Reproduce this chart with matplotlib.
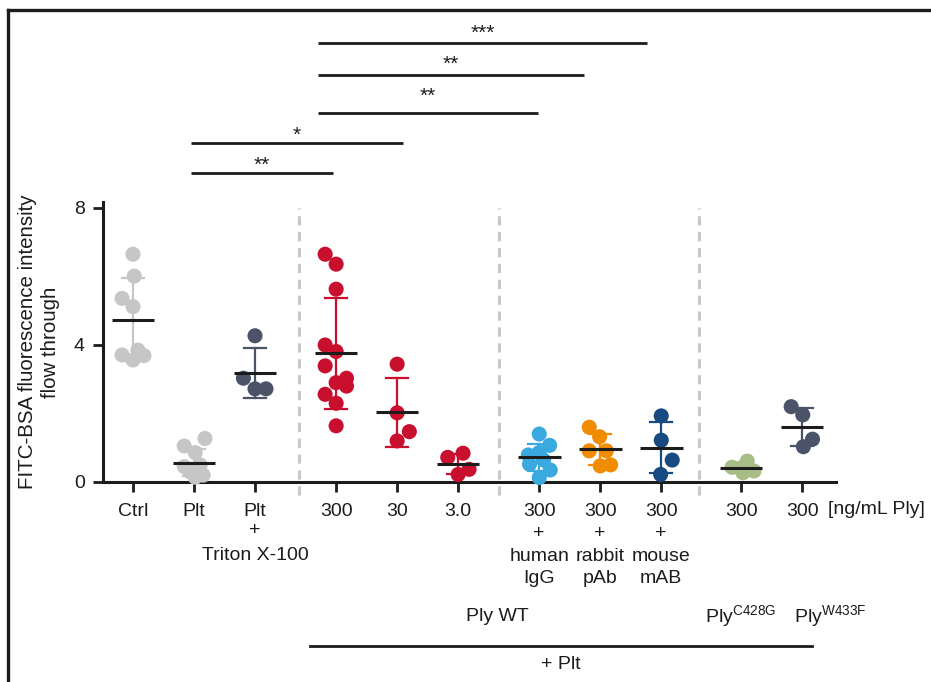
import matplotlib
matplotlib.use("Agg")
import matplotlib.pyplot as plt
import numpy as np
from matplotlib.lines import Line2D

plt.rcParams["font.family"] = ["Liberation Sans", "DejaVu Sans"]
plt.rcParams["mathtext.fontset"] = "custom"
plt.rcParams["mathtext.rm"] = "Liberation Sans"

INK = "#1c1c1c"

# ---- data -----------------------------------------------------------------
tick_labels = ["Ctrl", "Plt", "Plt",
               "300", "30", "3.0",
               "300\n+\nhuman\nIgG", "300\n+\nrabbit\npAb", "300\n+\nmouse\nmAB",
               "300", "300"]
triton_note = ["+", "Triton X-100"]

ctrl = [6.65, 6.01, 5.36, 5.12, 3.71, 3.85, 3.56, 3.69]
plt_only = [1.27, 1.05, 0.86, 0.45, 0.35, 0.20, 0.14, 0.30, 0.50]
plt_triton = [4.27, 3.03, 2.72, 2.72]
wt_300 = [6.65, 6.36, 5.63, 4.00, 3.81, 3.39, 2.90, 3.03, 2.80, 2.56, 2.30, 1.64]
wt_30 = [3.44, 2.02, 1.47, 1.20]
wt_3 = [0.72, 0.84, 0.37, 0.22]
wt_300_human_igg = [1.40, 1.07, 0.79, 0.86, 0.52, 0.64, 0.35, 0.13]
wt_300_rabbit_pab = [1.60, 1.32, 0.91, 0.91, 0.47, 0.50]
wt_300_mouse_mab = [1.93, 1.22, 0.64, 0.22]
c428g_300 = [0.43, 0.61, 0.27, 0.32, 0.40]
w433f_300 = [2.20, 1.96, 1.25, 1.03]

series = [ctrl, plt_only, plt_triton, wt_300, wt_30, wt_3,
          wt_300_human_igg, wt_300_rabbit_pab, wt_300_mouse_mab,
          c428g_300, w433f_300]

sig_labels = ["***", "**", "**", "*", "**"]

# ---- layout / styling -------------------------------------------------------
positions = [0, 1, 2, 3.33, 4.33, 5.33, 6.66, 7.66, 8.66, 9.97, 10.97]
jitter = [
    [0, 0.02, -0.18, 0, -0.18, 0.08, 0, 0.18],
    [0.18, -0.16, 0.02, -0.16, 0.02, 0.15, 0.02, -0.07, 0.10],
    [0, -0.19, 0, 0.18],
    [-0.18, 0, 0, -0.18, 0, -0.18, 0, 0.17, 0.17, -0.18, 0, 0],
    [0, 0, 0.2, 0],
    [-0.17, 0.08, 0.18, 0],
    [0, 0.17, -0.18, 0, -0.16, 0.07, 0.18, 0],
    [-0.18, -0.01, -0.18, 0.10, 0, 0.17],
    [0, 0, 0.18, -0.01],
    [-0.15, 0.10, 0.03, 0.21, -0.02],
    [-0.18, 0.01, 0.17, 0.02],
]
colors = ["#c6c6c6", "#c6c6c6", "#4a5368",
          "#c8102e", "#c8102e", "#c8102e",
          "#3aa9e0", "#f18b00", "#174a80",
          "#a8bc86", "#4a5368"]
dash_x = [2.72, 6.0, 9.28]
# (x start, x end, bar height, star height)
sig_lines = [(3.03, 8.43, 12.83, 13.10), (3.03, 7.39, 11.88, 12.20),
             (3.03, 6.64, 10.78, 11.26), (0.95, 4.43, 9.91, 10.12),
             (0.95, 3.28, 9.01, 9.24)]

W, H = 931, 682
fig = plt.figure(figsize=(W / 100, H / 100), dpi=100)
ax = fig.add_axes([103 / W, 1 - 482 / H, (836 - 103) / W, 280 / H])
ax.set_xlim(-0.492, 11.525)
ax.set_ylim(0, 8.175)

# separators between treatment blocks
for x in dash_x:
    ax.plot([x, x], [-0.38, 8.0], color="#c8c8c8", lw=2.2, ls=(0, (3, 2.2)),
            clip_on=False, zorder=1)

for pos, vals, off, col in zip(positions, series, jitter, colors):
    vals = np.asarray(vals)
    xs = pos + np.asarray(off)
    ax.scatter(xs, vals, s=118, color=col, edgecolors="none", zorder=3, clip_on=False)
    m = vals.mean()
    sd = vals.std(ddof=1)
    ax.plot([pos, pos], [m - sd, m + sd], color=col, lw=1.6, zorder=4, clip_on=False)
    for yy in (m - sd, m + sd):
        ax.plot([pos - 0.18, pos + 0.18], [yy, yy], color=col, lw=1.6, zorder=4,
                clip_on=False)
    ax.plot([pos - 0.35, pos + 0.35], [m, m], color=INK, lw=2.2, zorder=5,
            solid_capstyle="butt", clip_on=False)

# axes styling
for side in ("top", "right"):
    ax.spines[side].set_visible(False)
for side in ("left", "bottom"):
    ax.spines[side].set_linewidth(2.2)
    ax.spines[side].set_color(INK)
ax.set_yticks([0, 4, 8])
ax.set_xticks(positions)
ax.set_xticklabels(tick_labels, linespacing=1.42)
ax.tick_params(axis="both", colors=INK, width=2, length=7, labelsize=14)
ax.tick_params(axis="x", pad=8)
ax.tick_params(axis="y", pad=6)
ax.set_ylabel("FITC-BSA fluorescence intensity\nflow through", fontsize=14.8,
              color=INK, linespacing=1.25, labelpad=10)

# second and third lines of the detergent control label
ax.text(positions[2], -1.43, triton_note[0], fontsize=14, color=INK,
        ha="center", va="center")
ax.text(positions[2], -2.14, triton_note[1], fontsize=14, color=INK,
        ha="center", va="center")

# units and group labels beneath the axis
ax.text(11.39, -0.79, "[ng/mL Ply]", fontsize=14, color=INK, ha="left", va="center")
ax.text(5.98, -3.94, "Ply WT", fontsize=14, color=INK, ha="center", va="center")
ax.text(9.97, -3.94, r"Ply$^{\mathrm{C428G}}$", fontsize=14, color=INK,
        ha="center", va="center")
ax.text(11.43, -3.94, r"Ply$^{\mathrm{W433F}}$", fontsize=14, color=INK,
        ha="center", va="center")
ax.plot([2.90, 11.13], [-4.78, -4.78], color=INK, lw=2, clip_on=False)
ax.text(7.02, -5.34, "+ Plt", fontsize=14, color=INK, ha="center", va="center")

# significance bars
for (x0, x1, y, ty), lab in zip(sig_lines, sig_labels):
    ax.plot([x0, x1], [y, y], color=INK, lw=2, clip_on=False, solid_capstyle="butt")
    ax.text((x0 + x1) / 2, ty, lab, fontsize=15, color=INK, ha="center",
            va="center")

# frame edges
fig.add_artist(Line2D([8 / W, 1], [1 - 10 / H, 1 - 10 / H], color=INK, lw=2.4,
                      transform=fig.transFigure))
fig.add_artist(Line2D([8 / W, 8 / W], [0, 1 - 10 / H], color=INK, lw=2.4,
                      transform=fig.transFigure))

fig.savefig("out.png", dpi=100)
